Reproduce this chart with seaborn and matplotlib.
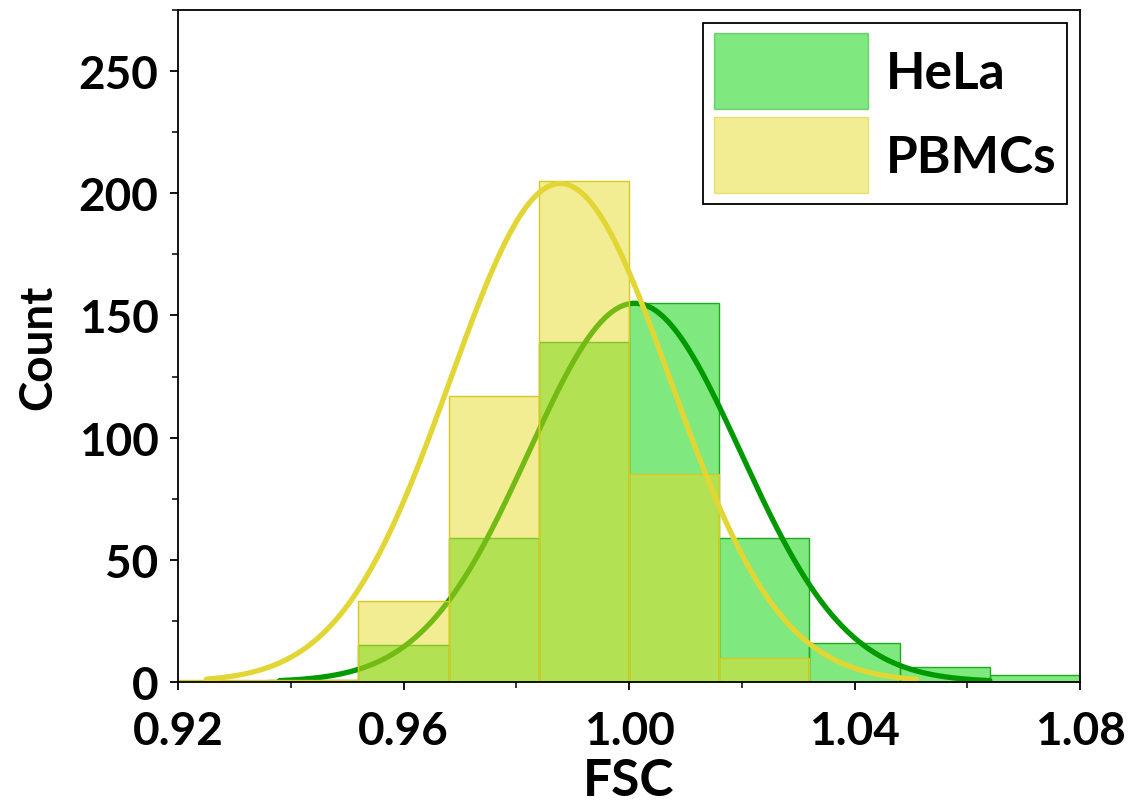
import numpy as np
import pandas as pd
import matplotlib
matplotlib.use("Agg")
import matplotlib.pyplot as plt
import seaborn as sns
from matplotlib.patches import Patch
from matplotlib.ticker import MultipleLocator

# ---- data ----
bin_edges = [0.92, 0.936, 0.952, 0.968, 0.984, 1.000, 1.016, 1.032, 1.048, 1.064, 1.08]
hela_counts = [0, 1, 15, 59, 139, 155, 59, 16, 6, 3]
pbmc_counts = [1, 1, 33, 117, 205, 85, 10, 0, 0, 0]

# Gaussian fit curves (amplitude, centre, width, drawn range)
hela_amp, hela_mu, hela_sigma, hela_range = 155, 1.001, 0.0188, (0.938, 1.064)
pbmc_amp, pbmc_mu, pbmc_sigma, pbmc_range = 204, 0.9878, 0.0195, (0.925, 1.051)

series_names = ["HeLa", "PBMCs"]
x_ticks = [0.92, 0.96, 1.00, 1.04, 1.08]
y_ticks = [0, 50, 100, 150, 200, 250]

# ---- style ----
sns.set_style("ticks")
plt.rcParams["font.family"] = ["Lato", "DejaVu Sans"]
plt.rcParams["font.weight"] = "bold"
plt.rcParams["text.color"] = "black"
plt.rcParams["axes.labelcolor"] = "black"
plt.rcParams["xtick.color"] = "black"
plt.rcParams["ytick.color"] = "black"

GREEN = "#00D300"
GREEN_EDGE = "#22A822"
GREEN_LINE = "#009A00"
YELLOW = "#E6DC28"
YELLOW_EDGE = "#D8C820"
YELLOW_LINE = "#E2D635"

fig, ax = plt.subplots(figsize=(11.37, 8.04), dpi=100)
fig.subplots_adjust(left=0.1566, right=0.9499, bottom=0.1505, top=0.9863)

centers = [(a + b) / 2 for a, b in zip(bin_edges[:-1], bin_edges[1:])]
df = pd.DataFrame({"center": centers, "HeLa": hela_counts, "PBMCs": pbmc_counts})

sns.histplot(data=df, x="center", weights="HeLa", bins=bin_edges, color=GREEN,
             alpha=0.5, edgecolor=GREEN_EDGE, linewidth=1.0, zorder=1, ax=ax)

def gauss(amp, mu, sigma, rng):
    xs = np.linspace(rng[0], rng[1], 400)
    return xs, amp * np.exp(-(xs - mu) ** 2 / (2 * sigma ** 2))

hx, hy = gauss(hela_amp, hela_mu, hela_sigma, hela_range)
sns.lineplot(x=hx, y=hy, color=GREEN_LINE, linewidth=3.8, zorder=1.5, ax=ax)

sns.histplot(data=df, x="center", weights="PBMCs", bins=bin_edges, color=YELLOW,
             alpha=0.5, edgecolor=YELLOW_EDGE, linewidth=1.0, zorder=2, ax=ax)

px, py = gauss(pbmc_amp, pbmc_mu, pbmc_sigma, pbmc_range)
sns.lineplot(x=px, y=py, color=YELLOW_LINE, linewidth=3.8, zorder=2.5, ax=ax)

ax.set_xlim(0.92, 1.08)
ax.set_ylim(0, 275)
ax.set_xticks(x_ticks)
ax.set_xticklabels([f"{t:.2f}" for t in x_ticks])
ax.set_yticks(y_ticks)
ax.xaxis.set_minor_locator(MultipleLocator(0.02))
ax.yaxis.set_minor_locator(MultipleLocator(25))
ax.tick_params(axis="both", which="major", direction="out", length=6, width=1.3,
               labelsize=33, colors="black")
ax.tick_params(axis="x", which="major", pad=14)
ax.tick_params(axis="y", which="major", pad=8)
ax.tick_params(axis="both", which="minor", direction="out", length=4, width=1.1)
for lab in ax.get_xticklabels() + ax.get_yticklabels():
    lab.set_fontweight("bold")

for s in ax.spines.values():
    s.set_visible(True)
    s.set_linewidth(1.3)
    s.set_color("black")

ax.set_xlabel("FSC", fontsize=37, fontweight="bold", labelpad=4)
ax.set_ylabel("Count", fontsize=33, fontweight="bold", labelpad=14)

handles = [Patch(facecolor=GREEN, edgecolor=GREEN_EDGE, alpha=0.5, linewidth=1.0),
           Patch(facecolor=YELLOW, edgecolor=YELLOW_EDGE, alpha=0.5, linewidth=1.0)]
leg = ax.legend(handles, series_names, loc="upper right",
                frameon=True, fancybox=False, edgecolor="black",
                handlelength=3.0, handleheight=1.9, labelspacing=0.16,
                borderpad=0.2, handletextpad=0.36, borderaxespad=0.25,
                prop={"weight": "bold", "size": 37})
leg.get_frame().set_linewidth(1.3)
leg.get_frame().set_alpha(1)

fig.savefig("out.png", dpi=100)
